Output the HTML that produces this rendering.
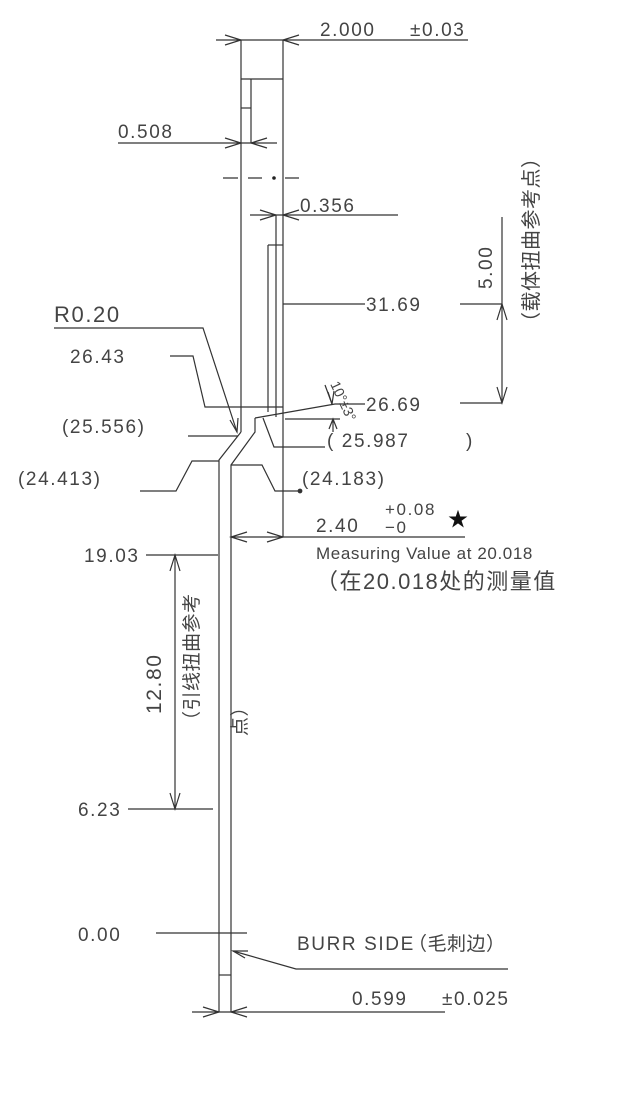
<!DOCTYPE html>
<html><head><meta charset="utf-8"><style>
html,body{margin:0;padding:0;background:#fff}
svg{display:block}
text{font-family:"Liberation Sans","Noto Sans CJK SC",sans-serif;fill:#444;font-size:19px;letter-spacing:1.6px}
.c{font-family:"Liberation Sans","WenQuanYi Zen Hei",sans-serif;letter-spacing:0.5px}
</style></head><body>
<svg width="618" height="1105" viewBox="0 0 618 1105" xmlns="http://www.w3.org/2000/svg">
<g stroke="#333" stroke-width="1.2" fill="none">
<line x1="216" y1="40" x2="468" y2="40"/>
<path d="M225 35 L241 40 L225 45 M299 35 L283 40 L299 45"/>
<line x1="241" y1="40" x2="241" y2="432"/>
<line x1="283" y1="40" x2="283" y2="537"/>
<line x1="241" y1="79" x2="283" y2="79"/>
<line x1="251" y1="79" x2="251" y2="143"/>
<line x1="241" y1="108" x2="251" y2="108"/>
<line x1="118" y1="143" x2="277" y2="143"/>
<path d="M225 138 L241 143 L225 148 M267 138 L251 143 L267 148"/>
<path d="M223 178 H238 M248 178 H262 M285 178 H299"/>
<line x1="250" y1="215" x2="398" y2="215"/>
<path d="M260 210 L276 215 L260 220 M299 210 L283 215 L299 220"/>
<line x1="276" y1="215" x2="276" y2="417"/>
<line x1="268" y1="245" x2="283" y2="245"/>
<line x1="268" y1="245" x2="268" y2="412"/>
<line x1="283" y1="304" x2="365" y2="304"/>
<line x1="460" y1="304" x2="502" y2="304"/>
<line x1="460" y1="403" x2="502" y2="403"/>
<line x1="502" y1="217" x2="502" y2="403"/>
<path d="M497 320 L502 304 L507 320 M497 387 L502 403 L507 387"/>
<path d="M54 328 H203 L237 432"/>
<path d="M230 420 L237 432 L238 418"/>
<path d="M170 356 H193 L205 407 H283"/>
<path d="M255 418 L335 404 H365"/>
<path d="M328 392 L332 404 L334 391"/>
<path d="M325 385 L332 404"/>
<line x1="285" y1="419" x2="340" y2="419"/>
<path d="M333 432 L333 419 M329 429 L333 419 L337 429"/>
<path d="M263 418 L274 447 H325"/>
<path d="M241 432 L219 460 V1012"/>
<path d="M255 418 V432 L231 465 V1012"/>
<line x1="219" y1="975" x2="231" y2="975"/>
<line x1="188" y1="436" x2="238" y2="436"/>
<path d="M140 491 H176 L192 461 H219"/>
<path d="M231 465 H262 L275 491 H300"/>
<circle cx="300" cy="491" r="1.8" fill="#333"/>
<line x1="231" y1="537" x2="465" y2="537"/>
<path d="M247 532 L231 537 L247 542 M267 532 L283 537 L267 542"/>
<line x1="146" y1="555" x2="218" y2="555"/>
<line x1="128" y1="809" x2="213" y2="809"/>
<line x1="175" y1="555" x2="175" y2="809"/>
<path d="M170 571 L175 555 L180 571 M170 793 L175 809 L180 793"/>
<line x1="156" y1="933" x2="247" y2="933"/>
<path d="M233 951 L296 969 H508"/>
<path d="M248 951 L233 951 L245 958"/>
<line x1="192" y1="1012" x2="445" y2="1012"/>
<path d="M203 1007 L219 1012 L203 1017 M247 1007 L231 1012 L247 1017"/>
</g>
<circle cx="274" cy="178" r="1.8" fill="#222"/>
<text x="320" y="36">2.000</text><text x="410" y="36">±0.03</text>
<text x="118" y="138">0.508</text>
<text x="300" y="212">0.356</text>
<text x="366" y="311">31.69</text>
<text x="54" y="322" style="font-size:22px">R0.20</text>
<text x="70" y="363">26.43</text>
<text x="366" y="411">26.69</text>
<text x="62" y="433">(25.556)</text>
<text x="327" y="447">( 25.987</text><text x="466" y="447">)</text>
<text x="18" y="485">(24.413)</text>
<text x="302" y="485">(24.183)</text>
<text x="316" y="532">2.40</text>
<text x="385" y="515" style="font-size:17px">+0.08</text>
<text x="385" y="533" style="font-size:17px">−0</text>
<text x="448" y="526" style="font-size:20px;fill:#111">★</text>
<text x="316" y="559" style="font-size:17px;letter-spacing:0.6px">Measuring Value at 20.018</text>
<text x="316" y="589" class="c" style="font-size:22px;letter-spacing:1.5px">（在20.018处的测量值</text>
<text x="84" y="562">19.03</text>
<text x="78" y="816">6.23</text>
<text x="78" y="941">0.00</text>
<text x="297" y="950">BURR SIDE</text><text x="408" y="950" class="c" style="font-size:19px">（毛刺边）</text>
<text x="352" y="1005">0.599</text><text x="442" y="1005">±0.025</text>
<text transform="translate(330,384) rotate(65)" style="font-size:14px;letter-spacing:0">10°±3°</text>
<text transform="translate(492,289) rotate(-90)">5.00</text>
<text transform="translate(538,332) rotate(-90)" class="c" style="font-size:20px">（载体扭曲参考点）</text>
<text transform="translate(161,714) rotate(-90)" style="font-size:21px">12.80</text>
<text transform="translate(198,730) rotate(-90)" class="c" style="font-size:19px">（引线扭曲参考</text>
<text transform="translate(246,736) rotate(-90)" class="c" style="font-size:19px">点）</text>
</svg>
</body></html>
